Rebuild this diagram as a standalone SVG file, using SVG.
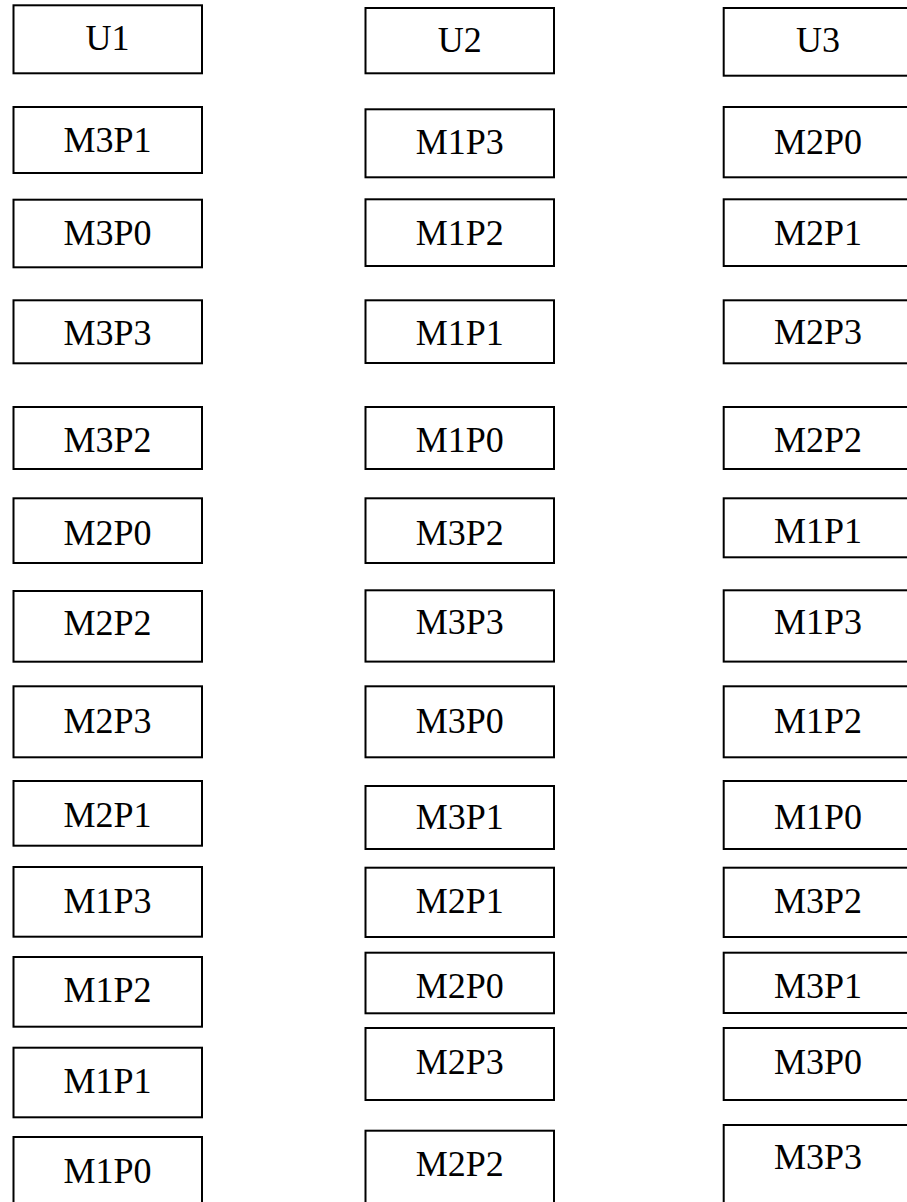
<svg xmlns="http://www.w3.org/2000/svg" width="907" height="1202" viewBox="0 0 907 1202">
<style>
rect.box{fill:#ffffff;stroke:#000000;stroke-width:2}
text.lbl{font-family:"Liberation Serif","Times New Roman",serif;font-size:36px;fill:#000000;text-anchor:middle}
</style>
<rect x="0" y="0" width="907" height="1202" fill="#ffffff"/>
<g id="connectors"/>
<!-- Column 1 -->
<g id="c1_U1"><rect class="box" x="13.5" y="5.3" width="188.5" height="68"/><text class="lbl" x="107.5" y="50">U1</text></g>
<g id="c1_M3P1"><rect class="box" x="13.5" y="107" width="188.5" height="66"/><text class="lbl" x="107.5" y="152">M3P1</text></g>
<g id="c1_M3P0"><rect class="box" x="13.5" y="199.7" width="188.5" height="67.6"/><text class="lbl" x="107.5" y="245">M3P0</text></g>
<g id="c1_M3P3"><rect class="box" x="13.5" y="300.3" width="188.5" height="63"/><text class="lbl" x="107.5" y="345">M3P3</text></g>
<g id="c1_M3P2"><rect class="box" x="13.5" y="407" width="188.5" height="62"/><text class="lbl" x="107.5" y="452">M3P2</text></g>
<g id="c1_M2P0"><rect class="box" x="13.5" y="498.3" width="188.5" height="64.7"/><text class="lbl" x="107.5" y="545">M2P0</text></g>
<g id="c1_M2P2"><rect class="box" x="13.5" y="591" width="188.5" height="70.7"/><text class="lbl" x="107.5" y="635">M2P2</text></g>
<g id="c1_M2P3"><rect class="box" x="13.5" y="686.3" width="188.5" height="71"/><text class="lbl" x="107.5" y="733">M2P3</text></g>
<g id="c1_M2P1"><rect class="box" x="13.5" y="781" width="188.5" height="64.7"/><text class="lbl" x="107.5" y="827">M2P1</text></g>
<g id="c1_M1P3"><rect class="box" x="13.5" y="867" width="188.5" height="69.7"/><text class="lbl" x="107.5" y="913">M1P3</text></g>
<g id="c1_M1P2"><rect class="box" x="13.5" y="957" width="188.5" height="69.7"/><text class="lbl" x="107.5" y="1002">M1P2</text></g>
<g id="c1_M1P1"><rect class="box" x="13.5" y="1047.7" width="188.5" height="69.6"/><text class="lbl" x="107.5" y="1093">M1P1</text></g>
<g id="c1_M1P0"><rect class="box" x="13.5" y="1137" width="188.5" height="70"/><text class="lbl" x="107.5" y="1183">M1P0</text></g>
<!-- Column 2 -->
<g id="c2_U2"><rect class="box" x="365.5" y="8" width="188.5" height="65.3"/><text class="lbl" x="459.8" y="52">U2</text></g>
<g id="c2_M1P3"><rect class="box" x="365.5" y="109.3" width="188.5" height="68"/><text class="lbl" x="459.8" y="154">M1P3</text></g>
<g id="c2_M1P2"><rect class="box" x="365.5" y="199.3" width="188.5" height="66.7"/><text class="lbl" x="459.8" y="245">M1P2</text></g>
<g id="c2_M1P1"><rect class="box" x="365.5" y="300.3" width="188.5" height="62.7"/><text class="lbl" x="459.8" y="345">M1P1</text></g>
<g id="c2_M1P0"><rect class="box" x="365.5" y="407" width="188.5" height="62"/><text class="lbl" x="459.8" y="452">M1P0</text></g>
<g id="c2_M3P2"><rect class="box" x="365.5" y="498.3" width="188.5" height="64.7"/><text class="lbl" x="459.8" y="545">M3P2</text></g>
<g id="c2_M3P3"><rect class="box" x="365.5" y="590.3" width="188.5" height="71.3"/><text class="lbl" x="459.8" y="634">M3P3</text></g>
<g id="c2_M3P0"><rect class="box" x="365.5" y="686.3" width="188.5" height="71"/><text class="lbl" x="459.8" y="733">M3P0</text></g>
<g id="c2_M3P1"><rect class="box" x="365.5" y="786" width="188.5" height="63"/><text class="lbl" x="459.8" y="829">M3P1</text></g>
<g id="c2_M2P1"><rect class="box" x="365.5" y="867.7" width="188.5" height="69.3"/><text class="lbl" x="459.8" y="913">M2P1</text></g>
<g id="c2_M2P0"><rect class="box" x="365.5" y="952.7" width="188.5" height="60.6"/><text class="lbl" x="459.8" y="998">M2P0</text></g>
<g id="c2_M2P3"><rect class="box" x="365.5" y="1028" width="188.5" height="72"/><text class="lbl" x="459.8" y="1074">M2P3</text></g>
<g id="c2_M2P2"><rect class="box" x="365.5" y="1130.7" width="188.5" height="75"/><text class="lbl" x="459.8" y="1176">M2P2</text></g>
<!-- Column 3 -->
<g id="c3_U3"><rect class="box" x="723.7" y="8" width="188.5" height="67.7"/><text class="lbl" x="818" y="52">U3</text></g>
<g id="c3_M2P0"><rect class="box" x="723.7" y="107" width="188.5" height="70.3"/><text class="lbl" x="818" y="154">M2P0</text></g>
<g id="c3_M2P1"><rect class="box" x="723.7" y="199.3" width="188.5" height="66.7"/><text class="lbl" x="818" y="245">M2P1</text></g>
<g id="c3_M2P3"><rect class="box" x="723.7" y="300.3" width="188.5" height="63"/><text class="lbl" x="818" y="344">M2P3</text></g>
<g id="c3_M2P2"><rect class="box" x="723.7" y="407" width="188.5" height="62"/><text class="lbl" x="818" y="452">M2P2</text></g>
<g id="c3_M1P1"><rect class="box" x="723.7" y="498.3" width="188.5" height="59"/><text class="lbl" x="818" y="543">M1P1</text></g>
<g id="c3_M1P3"><rect class="box" x="723.7" y="590.3" width="188.5" height="71.3"/><text class="lbl" x="818" y="634">M1P3</text></g>
<g id="c3_M1P2"><rect class="box" x="723.7" y="686.3" width="188.5" height="71"/><text class="lbl" x="818" y="733">M1P2</text></g>
<g id="c3_M1P0"><rect class="box" x="723.7" y="781" width="188.5" height="68"/><text class="lbl" x="818" y="829">M1P0</text></g>
<g id="c3_M3P2"><rect class="box" x="723.7" y="867.7" width="188.5" height="69.3"/><text class="lbl" x="818" y="913">M3P2</text></g>
<g id="c3_M3P1"><rect class="box" x="723.7" y="952.7" width="188.5" height="60.3"/><text class="lbl" x="818" y="998">M3P1</text></g>
<g id="c3_M3P0"><rect class="box" x="723.7" y="1028" width="188.5" height="72"/><text class="lbl" x="818" y="1074">M3P0</text></g>
<g id="c3_M3P3"><rect class="box" x="723.7" y="1125" width="188.5" height="80"/><text class="lbl" x="818" y="1169">M3P3</text></g>
</svg>
